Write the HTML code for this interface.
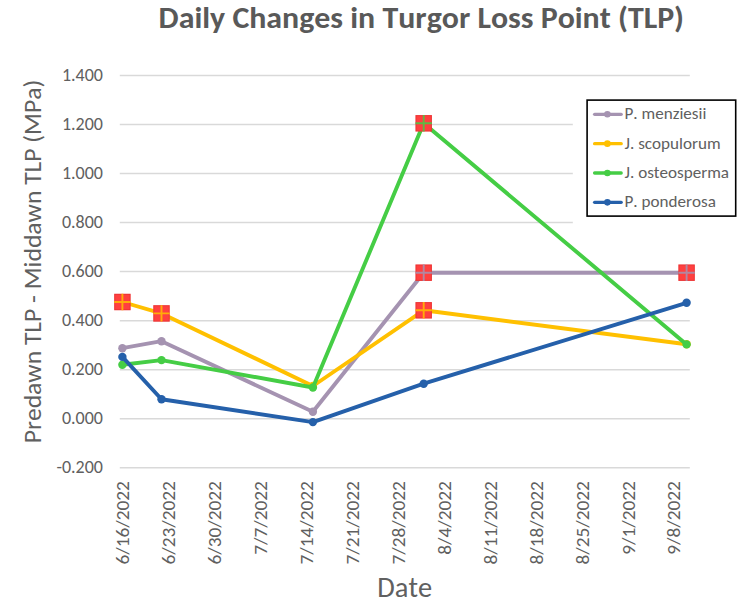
<!DOCTYPE html><html><head><meta charset="utf-8"><title>Daily Changes in Turgor Loss Point (TLP)</title>
<style>html,body{margin:0;padding:0;background:#fff;width:754px;height:610px;overflow:hidden}svg{display:block}text{font-family:"Carlito", "Liberation Sans", sans-serif;font-kerning:none}</style></head><body>
<svg width="754" height="610" viewBox="0 0 754 610">
<rect width="754" height="610" fill="#fff"/>
<text x="158.6" y="28" font-size="30.8" font-weight="700" fill="#595959" textLength="525.46" lengthAdjust="spacingAndGlyphs">Daily Changes in Turgor Loss Point (TLP)</text>
<line x1="119.8" x2="689.8" y1="75.40" y2="75.40" stroke="#D9D9D9" stroke-width="1.5"/>
<line x1="119.8" x2="689.8" y1="124.45" y2="124.45" stroke="#D9D9D9" stroke-width="1.5"/>
<line x1="119.8" x2="689.8" y1="173.50" y2="173.50" stroke="#D9D9D9" stroke-width="1.5"/>
<line x1="119.8" x2="689.8" y1="222.55" y2="222.55" stroke="#D9D9D9" stroke-width="1.5"/>
<line x1="119.8" x2="689.8" y1="271.60" y2="271.60" stroke="#D9D9D9" stroke-width="1.5"/>
<line x1="119.8" x2="689.8" y1="320.65" y2="320.65" stroke="#D9D9D9" stroke-width="1.5"/>
<line x1="119.8" x2="689.8" y1="369.70" y2="369.70" stroke="#D9D9D9" stroke-width="1.5"/>
<line x1="119.8" x2="689.8" y1="418.75" y2="418.75" stroke="#D9D9D9" stroke-width="1.5"/>
<line x1="119.8" x2="689.8" y1="467.80" y2="467.80" stroke="#D9D9D9" stroke-width="1.5"/>
<text x="103" y="81.00" font-size="18.0" fill="#606060" text-anchor="end" textLength="41.05" lengthAdjust="spacingAndGlyphs">1.400</text>
<text x="103" y="130.05" font-size="18.0" fill="#606060" text-anchor="end" textLength="41.05" lengthAdjust="spacingAndGlyphs">1.200</text>
<text x="103" y="179.10" font-size="18.0" fill="#606060" text-anchor="end" textLength="41.05" lengthAdjust="spacingAndGlyphs">1.000</text>
<text x="103" y="228.15" font-size="18.0" fill="#606060" text-anchor="end" textLength="41.05" lengthAdjust="spacingAndGlyphs">0.800</text>
<text x="103" y="277.20" font-size="18.0" fill="#606060" text-anchor="end" textLength="41.05" lengthAdjust="spacingAndGlyphs">0.600</text>
<text x="103" y="326.25" font-size="18.0" fill="#606060" text-anchor="end" textLength="41.05" lengthAdjust="spacingAndGlyphs">0.400</text>
<text x="103" y="375.30" font-size="18.0" fill="#606060" text-anchor="end" textLength="41.05" lengthAdjust="spacingAndGlyphs">0.200</text>
<text x="103" y="424.35" font-size="18.0" fill="#606060" text-anchor="end" textLength="41.05" lengthAdjust="spacingAndGlyphs">0.000</text>
<text x="103" y="473.40" font-size="18.0" fill="#606060" text-anchor="end" textLength="46.55" lengthAdjust="spacingAndGlyphs">-0.200</text>
<text transform="translate(129.40,481.1) rotate(-90)" font-size="18.8" fill="#606060" text-anchor="end" textLength="83.43" lengthAdjust="spacingAndGlyphs">6/16/2022</text>
<text transform="translate(175.32,481.1) rotate(-90)" font-size="18.8" fill="#606060" text-anchor="end" textLength="83.43" lengthAdjust="spacingAndGlyphs">6/23/2022</text>
<text transform="translate(221.24,481.1) rotate(-90)" font-size="18.8" fill="#606060" text-anchor="end" textLength="83.43" lengthAdjust="spacingAndGlyphs">6/30/2022</text>
<text transform="translate(267.16,481.1) rotate(-90)" font-size="18.8" fill="#606060" text-anchor="end" textLength="73.63" lengthAdjust="spacingAndGlyphs">7/7/2022</text>
<text transform="translate(313.08,481.1) rotate(-90)" font-size="18.8" fill="#606060" text-anchor="end" textLength="83.43" lengthAdjust="spacingAndGlyphs">7/14/2022</text>
<text transform="translate(359.00,481.1) rotate(-90)" font-size="18.8" fill="#606060" text-anchor="end" textLength="83.43" lengthAdjust="spacingAndGlyphs">7/21/2022</text>
<text transform="translate(404.92,481.1) rotate(-90)" font-size="18.8" fill="#606060" text-anchor="end" textLength="83.43" lengthAdjust="spacingAndGlyphs">7/28/2022</text>
<text transform="translate(450.84,481.1) rotate(-90)" font-size="18.8" fill="#606060" text-anchor="end" textLength="73.63" lengthAdjust="spacingAndGlyphs">8/4/2022</text>
<text transform="translate(496.76,481.1) rotate(-90)" font-size="18.8" fill="#606060" text-anchor="end" textLength="83.43" lengthAdjust="spacingAndGlyphs">8/11/2022</text>
<text transform="translate(542.68,481.1) rotate(-90)" font-size="18.8" fill="#606060" text-anchor="end" textLength="83.43" lengthAdjust="spacingAndGlyphs">8/18/2022</text>
<text transform="translate(588.60,481.1) rotate(-90)" font-size="18.8" fill="#606060" text-anchor="end" textLength="83.43" lengthAdjust="spacingAndGlyphs">8/25/2022</text>
<text transform="translate(634.52,481.1) rotate(-90)" font-size="18.8" fill="#606060" text-anchor="end" textLength="73.63" lengthAdjust="spacingAndGlyphs">9/1/2022</text>
<text transform="translate(680.44,481.1) rotate(-90)" font-size="18.8" fill="#606060" text-anchor="end" textLength="73.63" lengthAdjust="spacingAndGlyphs">9/8/2022</text>
<text transform="translate(41.0,443.2) rotate(-90)" font-size="24.4" fill="#606060" textLength="363.43" lengthAdjust="spacingAndGlyphs">Predawn TLP - Middawn TLP (MPa)</text>
<text x="377.3" y="596.6" font-size="28.2" fill="#606060" textLength="54.86" lengthAdjust="spacingAndGlyphs">Date</text>
<rect x="572.8" y="90" width="181.2" height="140" fill="#fff"/>
<polyline points="122.4,348.2 161.5,341.2 312.9,411.8 423.7,272.7 686.6,272.7" fill="none" stroke="#A593B1" stroke-width="3.9" stroke-linejoin="round" stroke-linecap="round"/>
<circle cx="122.4" cy="348.2" r="4.2" fill="#A593B1"/>
<circle cx="161.5" cy="341.2" r="4.2" fill="#A593B1"/>
<circle cx="312.9" cy="411.8" r="4.2" fill="#A593B1"/>
<rect x="415.50" y="264.50" width="16.4" height="16.4" fill="#FF4040"/>
<rect x="416.00" y="265.00" width="15.399999999999999" height="15.399999999999999" fill="none" stroke="#C81E1E" stroke-opacity="0.35" stroke-width="1"/>
<path d="M415.50 272.70H431.90M423.70 264.50V280.90" stroke="#A593B1" stroke-opacity="0.85" stroke-width="1.9"/>
<rect x="678.40" y="264.50" width="16.4" height="16.4" fill="#FF4040"/>
<rect x="678.90" y="265.00" width="15.399999999999999" height="15.399999999999999" fill="none" stroke="#C81E1E" stroke-opacity="0.35" stroke-width="1"/>
<path d="M678.40 272.70H694.80M686.60 264.50V280.90" stroke="#A593B1" stroke-opacity="0.85" stroke-width="1.9"/>
<polyline points="122.4,302.0 161.5,313.4 312.9,386.0 423.7,310.3 686.6,344.3" fill="none" stroke="#FFC000" stroke-width="3.9" stroke-linejoin="round" stroke-linecap="round"/>
<rect x="114.20" y="293.80" width="16.4" height="16.4" fill="#FF4040"/>
<rect x="114.70" y="294.30" width="15.399999999999999" height="15.399999999999999" fill="none" stroke="#C81E1E" stroke-opacity="0.35" stroke-width="1"/>
<path d="M114.20 302.00H130.60M122.40 293.80V310.20" stroke="#FFC000" stroke-opacity="0.85" stroke-width="1.9"/>
<rect x="153.30" y="305.20" width="16.4" height="16.4" fill="#FF4040"/>
<rect x="153.80" y="305.70" width="15.399999999999999" height="15.399999999999999" fill="none" stroke="#C81E1E" stroke-opacity="0.35" stroke-width="1"/>
<path d="M153.30 313.40H169.70M161.50 305.20V321.60" stroke="#FFC000" stroke-opacity="0.85" stroke-width="1.9"/>
<circle cx="312.9" cy="386.0" r="4.2" fill="#FFC000"/>
<rect x="415.50" y="302.10" width="16.4" height="16.4" fill="#FF4040"/>
<rect x="416.00" y="302.60" width="15.399999999999999" height="15.399999999999999" fill="none" stroke="#C81E1E" stroke-opacity="0.35" stroke-width="1"/>
<path d="M415.50 310.30H431.90M423.70 302.10V318.50" stroke="#FFC000" stroke-opacity="0.85" stroke-width="1.9"/>
<circle cx="686.6" cy="344.3" r="4.2" fill="#FFC000"/>
<polyline points="122.4,364.7 161.5,360.1 312.9,387.5 423.7,123.3 686.6,344.4" fill="none" stroke="#45CD45" stroke-width="3.9" stroke-linejoin="round" stroke-linecap="round"/>
<circle cx="122.4" cy="364.7" r="4.2" fill="#45CD45"/>
<circle cx="161.5" cy="360.1" r="4.2" fill="#45CD45"/>
<circle cx="312.9" cy="387.5" r="4.2" fill="#45CD45"/>
<rect x="415.50" y="115.10" width="16.4" height="16.4" fill="#FF4040"/>
<rect x="416.00" y="115.60" width="15.399999999999999" height="15.399999999999999" fill="none" stroke="#C81E1E" stroke-opacity="0.35" stroke-width="1"/>
<path d="M415.50 123.30H431.90M423.70 115.10V131.50" stroke="#45CD45" stroke-opacity="0.85" stroke-width="1.9"/>
<circle cx="686.6" cy="344.4" r="4.2" fill="#45CD45"/>
<polyline points="122.4,356.9 161.5,399.2 312.9,422.1 423.7,383.7 686.6,302.8" fill="none" stroke="#2560AA" stroke-width="3.9" stroke-linejoin="round" stroke-linecap="round"/>
<circle cx="122.4" cy="356.9" r="4.2" fill="#2560AA"/>
<circle cx="161.5" cy="399.2" r="4.2" fill="#2560AA"/>
<circle cx="312.9" cy="422.1" r="4.2" fill="#2560AA"/>
<circle cx="423.7" cy="383.7" r="4.2" fill="#2560AA"/>
<circle cx="686.6" cy="302.8" r="4.2" fill="#2560AA"/>
<rect x="587.1" y="100.1" width="148.6" height="116" fill="#fff" stroke="#000" stroke-width="1.6"/>
<line x1="594.6" x2="621.2" y1="114.30" y2="114.30" stroke="#A593B1" stroke-width="3.3" stroke-linecap="round"/>
<circle cx="607.4" cy="114.30" r="3.3" fill="#A593B1"/>
<text x="624.5" y="119.30" font-size="17.1" fill="#606060" textLength="81.88" lengthAdjust="spacingAndGlyphs">P. menziesii</text>
<line x1="594.6" x2="621.2" y1="143.65" y2="143.65" stroke="#FFC000" stroke-width="3.3" stroke-linecap="round"/>
<circle cx="607.4" cy="143.65" r="3.3" fill="#FFC000"/>
<text x="624.5" y="148.65" font-size="17.1" fill="#606060" textLength="96.06" lengthAdjust="spacingAndGlyphs">J. scopulorum</text>
<line x1="594.6" x2="621.2" y1="173.00" y2="173.00" stroke="#45CD45" stroke-width="3.3" stroke-linecap="round"/>
<circle cx="607.4" cy="173.00" r="3.3" fill="#45CD45"/>
<text x="624.5" y="178.00" font-size="17.1" fill="#606060" textLength="104.56" lengthAdjust="spacingAndGlyphs">J. osteosperma</text>
<line x1="594.6" x2="621.2" y1="202.35" y2="202.35" stroke="#2560AA" stroke-width="3.3" stroke-linecap="round"/>
<circle cx="607.4" cy="202.35" r="3.3" fill="#2560AA"/>
<text x="624.5" y="207.35" font-size="17.1" fill="#606060" textLength="91.33" lengthAdjust="spacingAndGlyphs">P. ponderosa</text>
</svg></body></html>
